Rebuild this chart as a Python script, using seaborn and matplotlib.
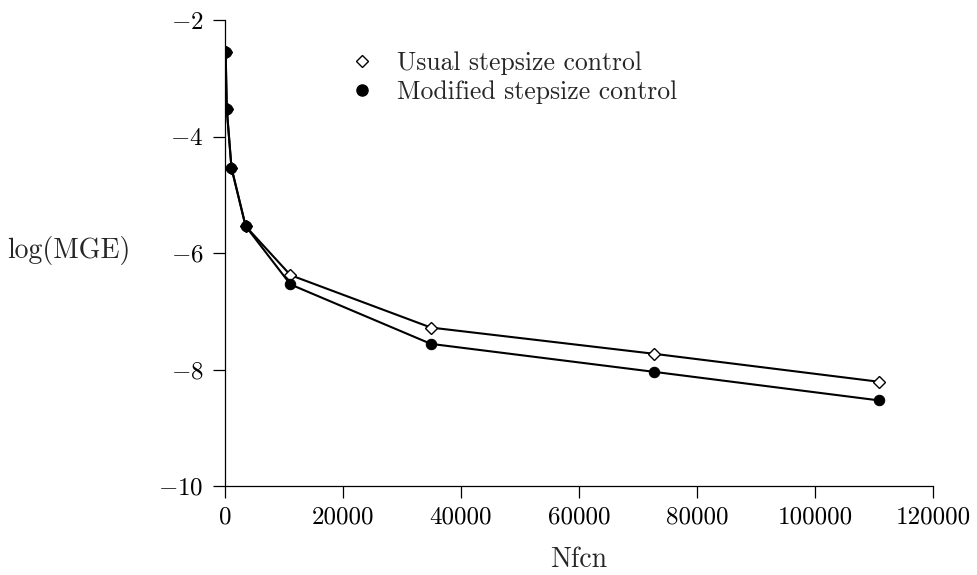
import numpy as np
import pandas as pd
import matplotlib
matplotlib.use("Agg")
import matplotlib.pyplot as plt
import seaborn as sns
from matplotlib.lines import Line2D

# ---- data ----
nfcn = [110, 300, 1100, 3500, 11100, 34900, 72700, 110800]
usual = [-2.55, -3.53, -4.54, -5.54, -6.38, -7.28, -7.73, -8.21]
modified = [-2.55, -3.53, -4.54, -5.54, -6.54, -7.56, -8.04, -8.53]
series_names = ["Usual stepsize control", "Modified stepsize control"]
xticks = [0, 20000, 40000, 60000, 80000, 100000, 120000]
yticks = [-10, -8, -6, -4, -2]
xlabel = "Nfcn"
ylabel = "log(MGE)"

sns.set_style("ticks")
plt.rcParams["font.family"] = ["cmr10", "DejaVu Serif"]
plt.rcParams["mathtext.fontset"] = "cm"
plt.rcParams["axes.unicode_minus"] = True
FS = 18
FS_LAB = 20
FS_LEG = 18.5

fig = plt.figure(figsize=(9.77, 5.75), dpi=100)
ax = fig.add_axes([225/977, 1-486/575, 708/977, 466/575])

sns.lineplot(x=nfcn, y=usual, ax=ax, color="black", lw=1.5, marker="D",
             markersize=6.5, markerfacecolor="white", markeredgecolor="black",
             markeredgewidth=1.0, legend=False, zorder=3)
sns.lineplot(x=nfcn, y=modified, ax=ax, color="black", lw=1.5, marker="o",
             markersize=7.5, markerfacecolor="black", markeredgecolor="black",
             legend=False, zorder=4)

ax.set_xlim(0, 120000)
ax.set_ylim(-10, -2)
ax.set_xticks(xticks)
ax.set_xticklabels([str(v) for v in xticks], fontsize=FS)
ax.set_yticks(yticks)
ax.set_yticklabels([f"${v}$" for v in yticks], fontsize=FS)
ax.tick_params(direction="out", length=8.5, width=0.9, colors="black")
ax.tick_params(axis="y", pad=7)
ax.tick_params(axis="x", pad=6)
for s in ["top", "right"]:
    ax.spines[s].set_visible(False)
for s in ["left", "bottom"]:
    ax.spines[s].set_linewidth(0.9)
    ax.spines[s].set_color("black")

ax.set_xlabel(xlabel, fontsize=FS_LAB, va="center")
ax.xaxis.set_label_coords(0.5, -0.159)
ax.set_ylabel(ylabel, fontsize=FS_LAB, rotation=0, ha="center", va="center")
ax.yaxis.set_label_coords(-0.220, 0.505)

handles = [
    Line2D([], [], linestyle="none", marker="D", markersize=6.3, markerfacecolor="white",
           markeredgecolor="black", markeredgewidth=1.0),
    Line2D([], [], linestyle="none", marker="o", markersize=8, markerfacecolor="black",
           markeredgecolor="black"),
]
ax.legend(handles, series_names, loc="upper left", bbox_to_anchor=(347/977, 1-51/575),
          bbox_transform=fig.transFigure, frameon=False, fontsize=FS_LEG, borderpad=0,
          handlelength=1.2, handletextpad=0.75, labelspacing=0.22, borderaxespad=0)

fig.savefig("out.png", dpi=100, facecolor="white")
